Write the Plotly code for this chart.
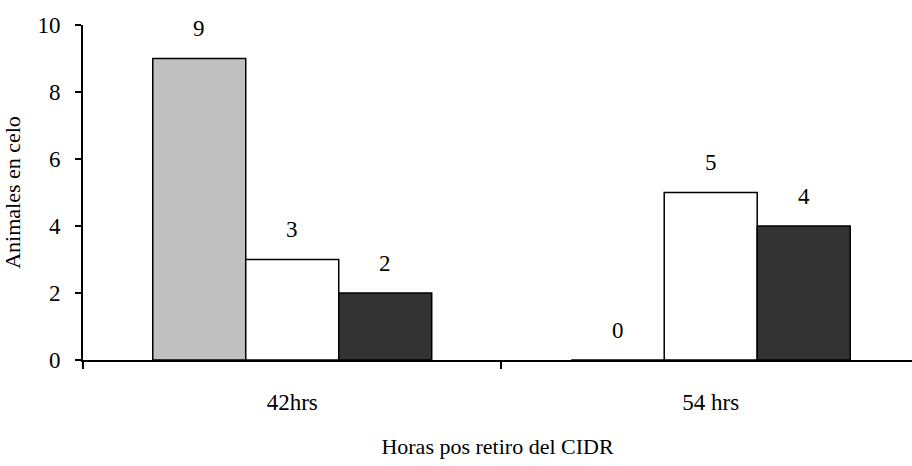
import plotly.graph_objects as go

# Data
categories = ["42hrs", "54 hrs"]
grupo_a = [9, 0]   # grey bars
grupo_b = [3, 5]   # white bars
grupo_c = [2, 4]   # dark bars
y_ticks = [0, 2, 4, 6, 8, 10]

series = [
    ("Grupo A", grupo_a, "#C0C0C0"),
    ("Grupo B", grupo_b, "#FFFFFF"),
    ("Grupo C", grupo_c, "#333333"),
]

FONT = "Liberation Serif"
BARGAP = 1 / 3

fig = go.Figure()
for name, vals, color in series:
    fig.add_trace(go.Bar(
        x=categories, y=vals, name=name,
        marker=dict(color=color, line=dict(color="black", width=1.5)),
        showlegend=False,
    ))

# Value labels above each bar
n = len(series)
w = (1 - BARGAP) / n
for k, (name, vals, color) in enumerate(series):
    for i, v in enumerate(vals):
        fig.add_annotation(
            x=i + (k - (n - 1) / 2) * w, y=v, xref="x", yref="y",
            text=str(v), showarrow=False, yanchor="middle", yshift=30,
            font=dict(family=FONT, size=23, color="black"),
        )

fig.update_layout(
    width=912, height=466,
    margin=dict(l=83, r=0, t=25, b=106),
    paper_bgcolor="white", plot_bgcolor="white",
    barmode="group", bargap=BARGAP, bargroupgap=0,
    font=dict(family=FONT, size=23, color="black"),
)
fig.update_xaxes(
    type="category", range=[-0.5, 1.481],
    showline=True, linecolor="black", linewidth=2,
    ticks="outside", tickson="boundaries", ticklen=7, tickwidth=2, tickcolor="black",
    ticklabelstandoff=20,
    tickfont=dict(family=FONT, size=23),
    title=dict(text="Horas pos retiro del CIDR", standoff=25,
               font=dict(family=FONT, size=22)),
    showgrid=False, zeroline=False,
)
fig.update_yaxes(
    range=[0, 10], tickvals=y_ticks,
    showline=True, linecolor="black", linewidth=2,
    ticks="outside", ticklen=6, tickwidth=2, tickcolor="black",
    ticklabelstandoff=10,
    tickfont=dict(family=FONT, size=23),
    title=dict(text="Animales en celo", standoff=11,
               font=dict(family=FONT, size=22)),
    showgrid=False, zeroline=False,
)

fig.write_html("out.html")
